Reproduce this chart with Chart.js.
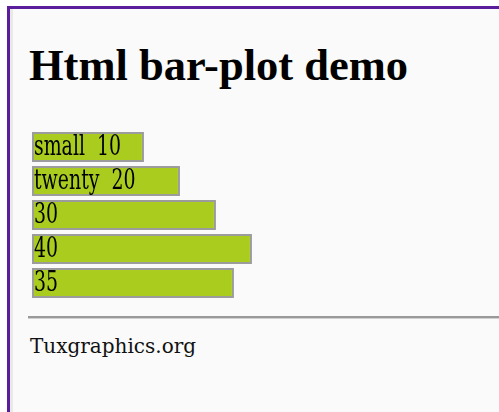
<!DOCTYPE html>
<html>
<head>
<meta charset="utf-8">
<script src="https://cdn.jsdelivr.net/npm/chart.js@4/dist/chart.umd.min.js"></script>
<style>
  html, body { margin: 0; padding: 0; background: #ffffff; width: 499px; height: 412px; overflow: hidden; }
  #frame {
    position: absolute; left: 7px; top: 6px; width: 700px; height: 600px;
    border-top: 3px solid #5a1d9b; border-left: 3px solid #5a1d9b;
    background: #f9faf9; box-shadow: inset 3px 0 0 #e9e9e6;
  }
  #title {
    position: absolute; left: 29px; top: 43px; margin: 0;
    font: bold 44.5px "Liberation Serif", serif; line-height: 44px; color: #000;
    white-space: nowrap;
  }
  #wrap { position: absolute; left: 32px; top: 130px; width: 320px; height: 170px; }
  #rule {
    position: absolute; left: 28px; top: 316px; width: 500px; height: 0;
    border-top: 2px solid #999; border-bottom: 1px solid #d0d0d0;
  }
  #foot {
    position: absolute; left: 30px; top: 334px;
    font: 20px "DejaVu Serif", serif; line-height: 24px; color: #111;
  }
</style>
</head>
<body>
<div id="frame"></div>
<h1 id="title">Html bar-plot demo</h1>
<div id="wrap"><canvas id="bars"></canvas></div>
<div id="rule"></div>
<div id="foot">Tuxgraphics.org</div>
<script>
const names = ['small', 'twenty', '', '', '']
const values = [10, 20, 30, 40, 35]

// bars in the original start with a fixed stub before the value length
const axisStart = -21.1
const axisEnd = 67.8

// label text in the bars is tall and narrow, so squeeze it sideways
const barText = {
  id: 'barText',
  afterDatasetsDraw: function (chart) {
    const ctx = chart.ctx
    const meta = chart.getDatasetMeta(0)
    meta.data.forEach(function (bar, i) {
      const txt = names[i] ? names[i] + '  ' + values[i] : String(values[i])
      ctx.save()
      ctx.font = '27px "DejaVu Serif", serif'
      ctx.fillStyle = '#000'
      ctx.textBaseline = 'alphabetic'
      ctx.translate(bar.base + 2, bar.y + 8)
      ctx.scale(0.7, 1)
      ctx.fillText(txt, 0, 0)
      ctx.restore()
    })
  }
}

new Chart(document.getElementById('bars'), {
  type: 'bar',
  data: {
    labels: values.map(function (v, i) { return names[i] || String(v) }),
    datasets: [{
      data: values,
      base: axisStart,
      backgroundColor: '#a9cc1f',
      borderColor: '#9c9c9c',
      borderWidth: 2,
      borderSkipped: false,
      categoryPercentage: 1,
      barPercentage: 30 / 34
    }]
  },
  options: {
    indexAxis: 'y',
    responsive: true,
    maintainAspectRatio: false,
    animation: false,
    layout: { padding: 0 },
    scales: {
      x: { display: false, min: axisStart, max: axisEnd },
      y: { display: false }
    },
    plugins: {
      legend: { display: false },
      tooltip: { enabled: false }
    }
  },
  plugins: [barText]
})
</script>
</body>
</html>
